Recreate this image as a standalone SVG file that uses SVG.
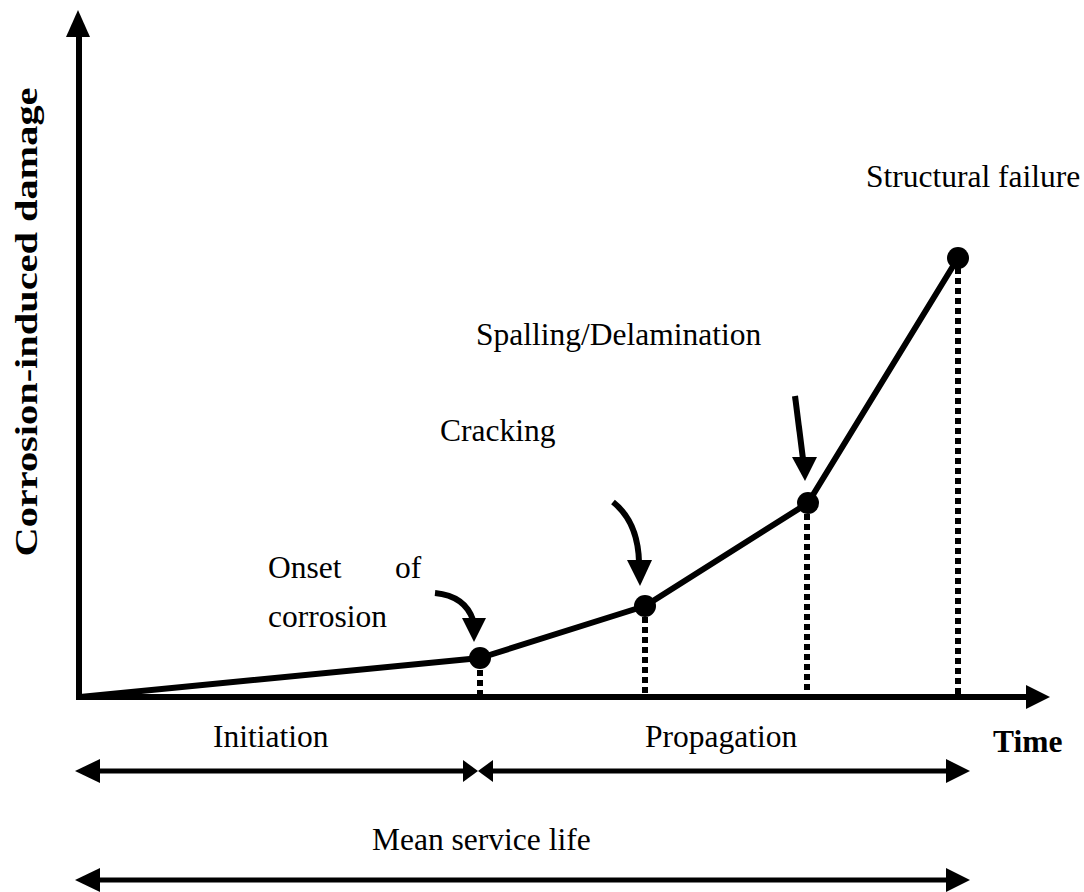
<svg xmlns="http://www.w3.org/2000/svg" width="1084" height="892" viewBox="0 0 1084 892">
<style>
.ln{stroke:#000;stroke-width:6;fill:none;stroke-linecap:butt}
.dim{stroke:#000;stroke-width:5;fill:none}
.dot{stroke:#000;stroke-width:6;fill:none;stroke-dasharray:6 4}
.hd{fill:#000;stroke:none}
.t{font-family:"Liberation Serif","Times New Roman",serif;font-size:31.5px;fill:#000}
.b{font-weight:bold}
</style>
<rect width="1084" height="892" fill="#fff"/>
<g id="axes">
<line class="ln" x1="79" y1="30" x2="79" y2="700"/>
<polygon class="hd" points="78,10 66,37 90,37"/>
<line class="ln" x1="76" y1="697" x2="1030" y2="697"/>
<polygon class="hd" points="1050,697 1026,685 1026,709"/>
<text class="t b" transform="translate(37,322) rotate(-90)" text-anchor="middle" textLength="469" lengthAdjust="spacingAndGlyphs" font-size="36">Corrosion-induced damage</text>
<text class="t b" x="993" y="752">Time</text>
</g>
<g id="connectors">
<polyline class="ln" points="80,697 480,658 645,606 808,503 958,258" stroke-linejoin="round"/>
<line class="dot" x1="480" y1="670" x2="480" y2="697"/>
<line class="dot" x1="645" y1="617" x2="645" y2="697"/>
<line class="dot" x1="807" y1="514" x2="807" y2="697"/>
<line class="dot" x1="958" y1="268" x2="958" y2="697"/>
<path class="ln" d="M435,593 Q465,596 473,620"/>
<polygon class="hd" points="474,642 462,618 486,618"/>
<path class="ln" d="M613,502 Q638,522 639,562"/>
<polygon class="hd" points="640,586 627,560 652,560"/>
<path class="ln" d="M795,396 L803,459"/>
<polygon class="hd" points="805,481 792,457 817,457"/>
</g>
<g id="n-onset"><circle cx="480" cy="658" r="11" fill="#000"/>
<text class="t" x="268" y="578">Onset</text><text class="t" x="395" y="578">of</text>
<text class="t" x="268" y="627">corrosion</text></g>
<g id="n-cracking"><circle cx="645" cy="606" r="11" fill="#000"/>
<text class="t" x="440" y="441">Cracking</text></g>
<g id="n-spalling"><circle cx="808" cy="503" r="11" fill="#000"/>
<text class="t" x="476" y="345">Spalling/Delamination</text></g>
<g id="n-failure"><circle cx="958" cy="258" r="11" fill="#000"/>
<text class="t" x="866" y="187">Structural failure</text></g>
<g id="dimensions">
<line class="dim" x1="95" y1="771" x2="468" y2="771"/>
<polygon class="hd" points="75,771 100,759 100,783"/>
<polygon class="hd" points="478,771 463,760 463,782"/>
<line class="dim" x1="488" y1="771" x2="950" y2="771"/>
<polygon class="hd" points="478,771 493,760 493,782"/>
<polygon class="hd" points="970,771 946,759 946,783"/>
<text class="t" x="213" y="747">Initiation</text>
<text class="t" x="645" y="747">Propagation</text>
<line class="dim" x1="95" y1="880" x2="950" y2="880"/>
<polygon class="hd" points="75,880 100,868 100,892"/>
<polygon class="hd" points="970,880 946,868 946,892"/>
<text class="t" x="372" y="850">Mean service life</text>
</g>
</svg>
